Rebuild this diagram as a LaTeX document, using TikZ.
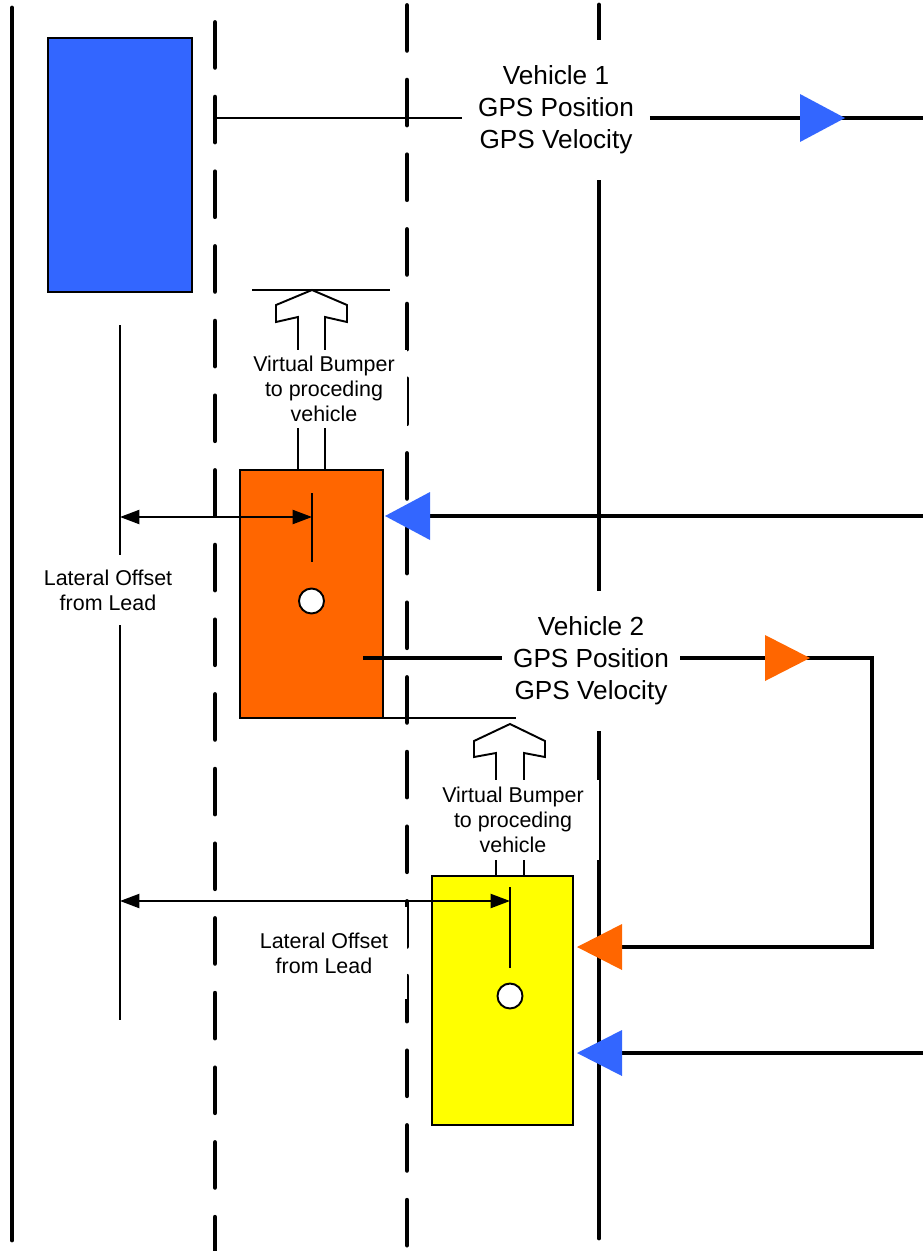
\documentclass[tikz,border=0pt]{standalone}
\usepackage{fontspec}
\setmainfont{Liberation Sans}
\usetikzlibrary{arrows.meta}

\definecolor{leadblue}{HTML}{3366FF}
\definecolor{midorange}{HTML}{FF6600}
\definecolor{tailyellow}{HTML}{FFFF00}

\begin{document}
\begin{tikzpicture}[
  x=0.02cm, y=-0.02cm,
  lane/.style={line width=2.8pt, line cap=round},
  dashlane/.style={lane, dash pattern=on 25.5pt off 17pt},
  link/.style={line width=2.3pt},
  fine/.style={line width=1.1pt},
  car/.style={draw, line width=1.4pt, inner sep=0pt},
  msg/.style={fill=white, align=center, inner sep=0pt,
              font=\fontsize{14.9}{18.1}\selectfont},
  note/.style={fill=white, align=center, inner sep=0pt,
               font=\fontsize{12.2}{14.3}\selectfont},
  dot/.style={circle, draw, fill=white, line width=1.1pt,
              minimum size=0.5cm, inner sep=0pt},
  offset/.style={fine, {Triangle[length=11pt,width=8pt]}-{Triangle[length=11pt,width=8pt]}}
]
\useasboundingbox (0,0) rectangle (923,1251);

% lanes
\draw[lane] (12,8) -- (12,1240);
\draw[dashlane] (215,22.5) -- (215,1275);
\draw[dashlane] (407,5.5) -- (407,1275);
\draw[lane] (599,5) -- (599,1238);

\node[msg, minimum width=3.74cm, minimum height=2.8cm] (msg1) at (556,110)
  {Vehicle 1\\GPS Position\\GPS Velocity};
\node[msg, minimum width=3.56cm, minimum height=2.82cm] (msg2) at (591,661)
  {Vehicle 2\\GPS Position\\GPS Velocity};

% lateral reference line and virtual bumpers
\draw[fine] (120,325) -- (120,1020);
\draw[fine] (252,290) -- (390,290);
\draw[fine] (325,470) -- (325,317) -- (347,322) -- (347,305) -- (312,290)
  -- (276,305) -- (276,322) -- (298,317) -- (298,470);
\draw[fine] (377,718) -- (516,718);
\draw[fine] (524,876) -- (524,753) -- (545,757) -- (545,741) -- (510,724)
  -- (474,741) -- (474,757) -- (496,753) -- (496,876);

\node[note, minimum width=3.32cm, minimum height=1.56cm] (bump1) at (324,389)
  {Virtual Bumper\\to proceding\\vehicle};
\node[note, minimum width=3.44cm, minimum height=1.6cm] (bump2) at (513,820)
  {Virtual Bumper\\to proceding\\vehicle};
\node[note, minimum width=2.8cm, minimum height=1.4cm] (lat1) at (108,590)
  {Lateral Offset\\from Lead};
\node[note, minimum width=3.34cm, minimum height=1.84cm] (lat2) at (324,953)
  {Lateral Offset\\from Lead};

\node[car, fill=leadblue, minimum width=2.88cm, minimum height=5.08cm] (car1) at (120,165) {};
\node[car, fill=midorange, minimum width=2.86cm, minimum height=4.96cm] (car2) at (311.5,594) {};
\node[car, fill=tailyellow, minimum width=2.82cm, minimum height=4.98cm] (car3) at (502.5,1000.5) {};

\coordinate (v1tap) at (215,118);
\coordinate (v1out) at (923,118);
\coordinate (v2src) at (363,658);
\coordinate (v2turn) at (872,658);
\coordinate (v2in) at (622,947);
\coordinate (bluein2) at (923,516);
\coordinate (bluein3) at (923,1053);

% vehicle 1 broadcast
\draw[fine] (v1tap) -- (msg1.west |- v1tap);
\draw[link] (msg1.east |- v1tap) -- (v1out);
\fill[leadblue] (845,118) -- (800,94) -- (800,142) -- cycle;
\draw[link] (bluein2) -- (430,516);
\fill[leadblue] (385,516) -- (430,492) -- (430,540) -- cycle;
\draw[link] (bluein3) -- (622,1053);
\fill[leadblue] (577,1053) -- (622,1030) -- (622,1076) -- cycle;

% vehicle 2 broadcast
\draw[link] (v2src) -- (msg2.west |- v2src);
\draw[link] (msg2.east |- v2src) -- (v2turn) |- (v2in);
\fill[midorange] (810,658) -- (765,635) -- (765,681) -- cycle;
\fill[midorange] (577,947) -- (622,924) -- (622,970) -- cycle;

% lateral offsets
\coordinate (ref2) at (120,517);
\coordinate (ctr2) at (312,517);
\coordinate (ref3) at (120,901);
\coordinate (ctr3) at (510,901);
\draw[offset] (ref2) -- (ctr2);
\draw[fine] (312,493) -- (312,562);
\draw[offset] (ref3) -- (ctr3);
\draw[fine] (510,887) -- (510,968);
\node[dot] (cg2) at (311.5,601) {};
\node[dot] (cg3) at (510,996) {};
\end{tikzpicture}
\end{document}
